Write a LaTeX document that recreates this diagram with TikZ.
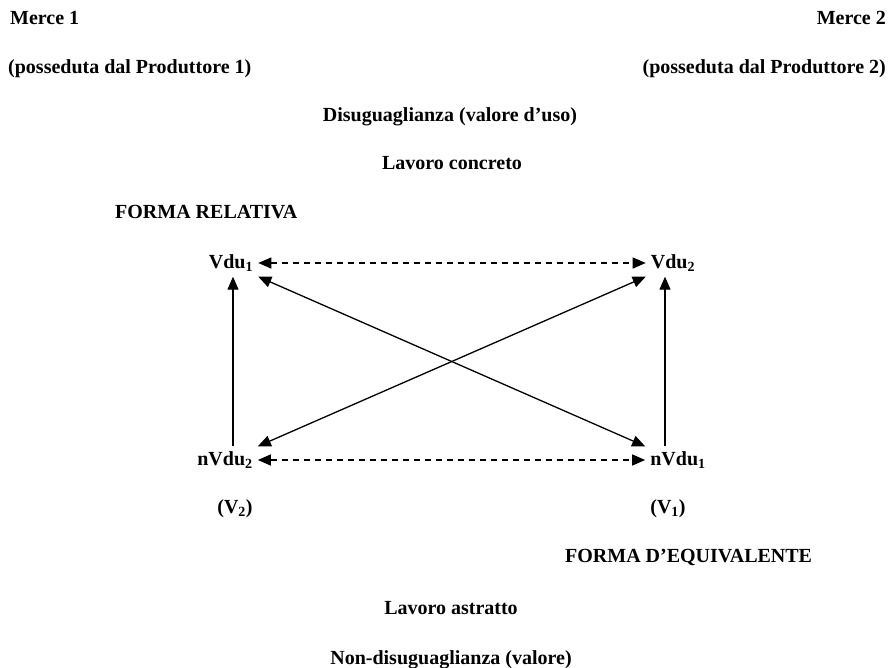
\documentclass[tikz,border=0pt]{standalone}
\usepackage{fontspec}
\setmainfont{Liberation Serif}
\usetikzlibrary{arrows.meta}

\begin{document}
\begin{tikzpicture}[
    x=1pt, y=-1pt,
    lbl/.style={font=\fontsize{20}{24}\selectfont\bfseries, inner sep=0pt},
    vdu/.style={font=\fontsize{20}{24}\selectfont\bfseries, inner sep=5pt},
    arrow/.style={-{Triangle[length=13pt, width=11pt]}, line width=1.3pt},
    dblarrow/.style={{Triangle[length=13pt, width=11pt]}-{Triangle[length=13pt, width=11pt]}, line width=1.3pt},
    dasharrow/.style={dblarrow, dash pattern=on 6pt off 5pt},
]
\useasboundingbox (0,0) rectangle (894,668);

% Top: the two goods
\node[lbl, anchor=west] (merce1) at (10, 18) {Merce 1};
\node[lbl, anchor=east] (merce2) at (886, 18) {Merce 2};
\node[lbl, anchor=west] (prod1) at (8, 69) {(posseduta dal Produttore 1)};
\node[lbl, anchor=east] (prod2) at (886, 69) {(posseduta dal Produttore 2)};

\node[lbl] (disug) at (450, 117) {Disuguaglianza (valore d'uso)};
\node[lbl] (concreto) at (452, 163) {Lavoro concreto};
\node[lbl, anchor=west] (relativa) at (115, 212) {FORMA RELATIVA};

% Square
\node[vdu] (Vdu1) at (231, 263) {Vdu\textsubscript{1}};
\node[vdu] (Vdu2) at (673, 263) {Vdu\textsubscript{2}};
\node[vdu] (nVdu2) at (225, 460) {nVdu\textsubscript{2}};
\node[vdu] (nVdu1) at (678, 460) {nVdu\textsubscript{1}};

\draw[dasharrow] (Vdu1.east) -- (Vdu2.west);
\draw[dasharrow] (nVdu2.east) -- (nVdu1.west);
\draw[arrow] ([xshift=2pt]Vdu1.south |- nVdu2.north) -- ([xshift=2pt]Vdu1.south);
\draw[arrow] ([xshift=-8pt]Vdu2.south |- nVdu1.north) -- ([xshift=-8pt]Vdu2.south);
\draw[dblarrow] (Vdu1.south east) -- (nVdu1.north west);
\draw[dblarrow] (Vdu2.south west) -- (nVdu2.north east);

% Bottom
\node[lbl] (V2) at (235, 509) {(V\textsubscript{2})};
\node[lbl] (V1) at (668, 509) {(V\textsubscript{1})};
\node[lbl, anchor=west] (equiv) at (565, 557) {FORMA D'EQUIVALENTE};
\node[lbl] (astratto) at (451, 608) {Lavoro astratto};
\node[lbl] (nondisug) at (451, 660) {Non-disuguaglianza (valore)};

\end{tikzpicture}
\end{document}
